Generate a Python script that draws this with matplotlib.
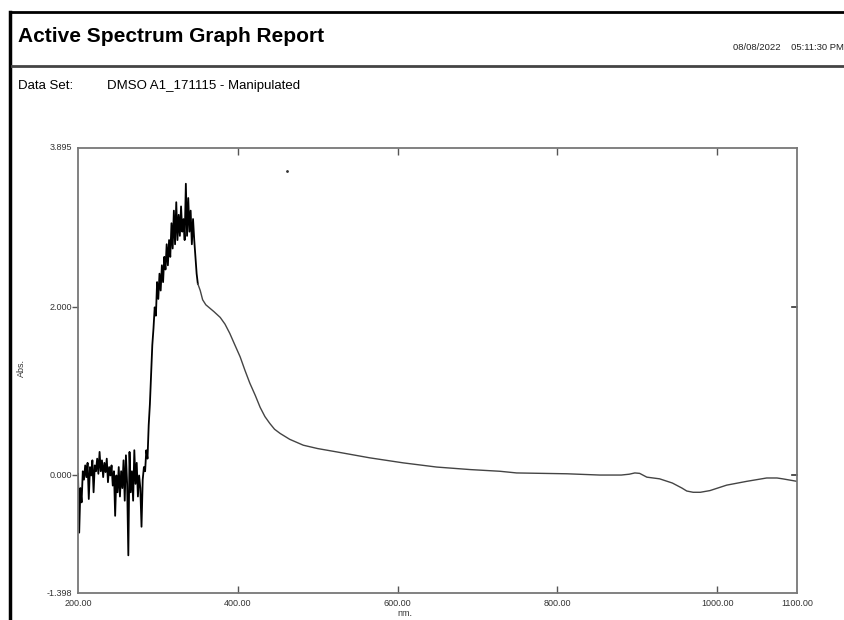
import numpy as np
import matplotlib
matplotlib.use("Agg")
import matplotlib.pyplot as plt
from matplotlib.lines import Line2D

plt.rcParams['font.family'] = ['Liberation Sans', 'DejaVu Sans']

# noisy region 200-350 nm, sampled every 1.5 nm
noisy_nm = np.linspace(200, 350, 101)
noisy_abs = [
    0.02, -0.68, -0.15, -0.32, 0.05, -0.05, 0.12, -0.02, 0.15, -0.28,
    0.10, 0.00, 0.18, -0.20, 0.12, 0.05, 0.20, 0.02, 0.28, 0.05,
    0.18, -0.02, 0.15, 0.04, 0.20, -0.08, 0.10, 0.00, 0.12, -0.12,
    0.05, -0.48, 0.00, -0.20, 0.10, -0.25, 0.05, -0.15, 0.18, -0.30,
    0.24, -0.10, -0.95, 0.28, -0.20, 0.05, -0.30, 0.30, -0.10, 0.15,
    -0.25, 0.00, -0.15, -0.61, -0.05, 0.10, 0.05, 0.30, 0.20, 0.60,
    0.85, 1.20, 1.55, 1.75, 2.00, 1.90, 2.30, 2.10, 2.40, 2.20,
    2.50, 2.30, 2.60, 2.45, 2.75, 2.50, 2.80, 2.60, 3.00, 2.70,
    3.15, 2.75, 3.25, 2.80, 3.10, 2.85, 3.20, 2.90, 3.05, 2.80,
    3.47, 2.85, 3.30, 2.90, 3.15, 2.75, 3.05, 2.80, 2.60, 2.40,
    2.28,
]

# smooth region after the peak
smooth_nm = [350, 353, 356, 360, 365, 370, 378, 384, 390, 396, 403, 409, 415, 422, 428,
             434, 440, 446, 453, 465, 482, 500, 524, 565, 607, 649, 691, 728, 749,
             812, 853, 880, 890, 897, 903, 912, 928, 944, 956, 962, 970, 979, 991,
             1012, 1037, 1062, 1075, 1082, 1100]
smooth_abs = [2.28, 2.20, 2.09, 2.03, 1.99, 1.95, 1.88, 1.80, 1.69, 1.56, 1.41, 1.25, 1.10, 0.95, 0.81,
              0.70, 0.62, 0.55, 0.50, 0.43, 0.36, 0.32, 0.28, 0.21, 0.15, 0.10, 0.07, 0.05, 0.03,
              0.02, 0.005, 0.005, 0.015, 0.03, 0.025, -0.02, -0.04, -0.09, -0.15, -0.185, -0.20, -0.20, -0.18,
              -0.115, -0.07, -0.03, -0.03, -0.04, -0.07]

x_ticks = [400, 600, 800, 1000]
x_labels = [200, 400, 600, 800, 1000, 1100]
y_ticks = [0.0, 2.0]
y_labels = [-1.398, 0.0, 2.0, 3.895]

fig = plt.figure(figsize=(8.45, 6.2), dpi=100)
W, H = 845, 620

def fx(px):
    return px / W

def fy(py):
    return 1 - py / H

ax = fig.add_axes([fx(78), fy(593), fx(797) - fx(78), fy(148) - fy(593)])
ax.plot(noisy_nm, noisy_abs, color='black', lw=1.3)
ax.plot(smooth_nm, smooth_abs, color='#444444', lw=1.0)
ax.plot([461], [3.62], marker='.', ms=2, color='#333333')  # stray dot
ax.set_xlim(200, 1100)
ax.set_ylim(-1.398, 3.895)

for s in ax.spines.values():
    s.set_color('#777777')
    s.set_linewidth(1.3)

ax.set_xticks(x_ticks)
ax.set_xticklabels([])
ax.set_yticks(y_ticks)
ax.set_yticklabels([])
ax.tick_params(axis='x', direction='in', length=5, width=1, color='#555555', top=True)
ax.tick_params(axis='y', direction='out', length=4, width=1, color='#555555')
for y in y_ticks:
    ax.plot([1100 - 6, 1100], [y, y], color='#333333', lw=1.2, clip_on=False)

for v in x_labels:
    ax.text(v, -1.398 - 0.13, '%.2f' % v, ha='center', va='center', fontsize=6.5, color='#333333')
for v in y_labels:
    ax.annotate('%.3f' % v, xy=(200, v), xytext=(-4, 0), textcoords='offset points',
                ha='right', va='center', fontsize=6.5, color='#333333')

fig.text(fx(405), fy(614), 'nm.', ha='center', va='center', fontsize=6.5, color='#333333')
fig.text(fx(21), fy(368), 'Abs.', ha='center', va='center', rotation=90, fontsize=6.5, color='#333333')

# header
fig.text(fx(18), fy(37), 'Active Spectrum Graph Report', ha='left', va='center',
         fontsize=15, fontweight='bold', color='black')
fig.text(fx(733), fy(48), '08/08/2022    05:11:30 PM', ha='left', va='center',
         fontsize=6.8, color='#222222')
fig.text(fx(18), fy(86), 'Data Set:', ha='left', va='center', fontsize=9.5, color='black')
fig.text(fx(107), fy(86), 'DMSO A1_171115 - Manipulated', ha='left', va='center',
         fontsize=9.5, color='black')

# page borders
fig.add_artist(Line2D([fx(10), 1], [fy(12), fy(12)], color='black', lw=2))
fig.add_artist(Line2D([fx(10), fx(10)], [fy(12), 0], color='black', lw=2.5))
fig.add_artist(Line2D([fx(12), 1], [fy(66), fy(66)], color='#444444', lw=2))

fig.savefig('out.png', dpi=100)
